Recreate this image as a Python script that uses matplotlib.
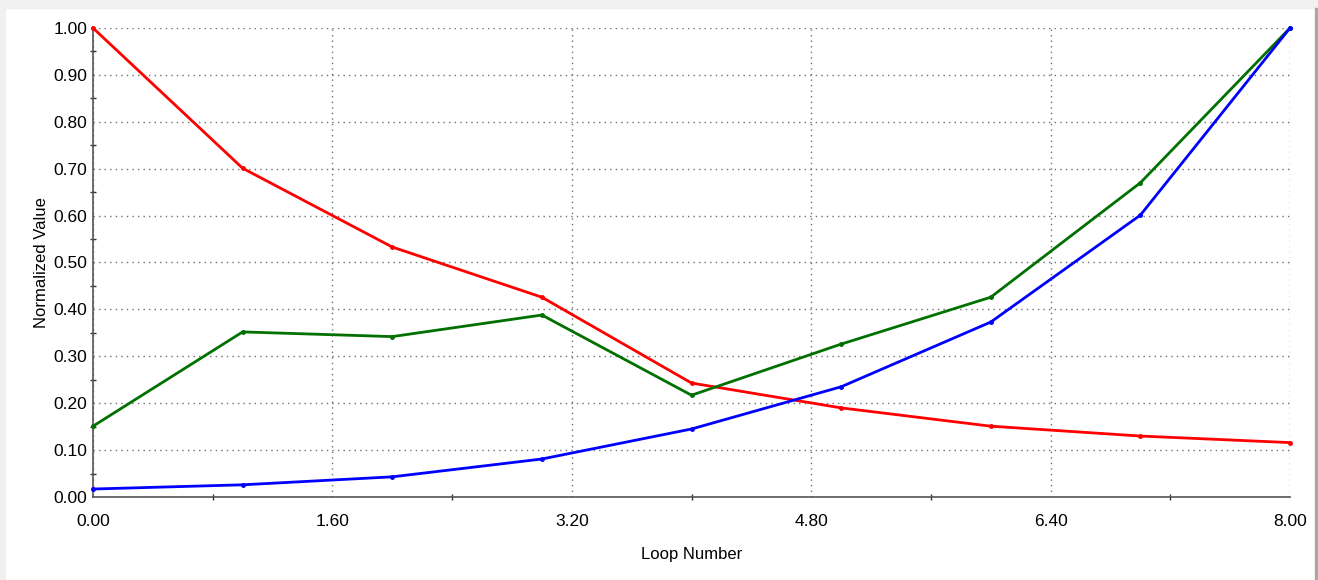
import matplotlib
matplotlib.use("Agg")
import matplotlib.pyplot as plt
from matplotlib.ticker import MultipleLocator, FormatStrFormatter
from matplotlib.patches import Rectangle

# loop index and the three normalized series
loops = [0, 1, 2, 3, 4, 5, 6, 7, 8]
red_vals = [1.00, 0.701, 0.533, 0.426, 0.243, 0.190, 0.151, 0.130, 0.116]
green_vals = [0.151, 0.352, 0.342, 0.388, 0.217, 0.326, 0.426, 0.670, 1.00]
blue_vals = [0.017, 0.026, 0.043, 0.081, 0.145, 0.235, 0.373, 0.601, 1.00]

plt.rcParams['font.family'] = ['Liberation Sans', 'DejaVu Sans']

fig = plt.figure(figsize=(13.18, 5.8), dpi=100)
ax = fig.add_axes([93 / 1318, 1 - 497 / 580, (1290 - 93) / 1318, (497 - 28) / 580])

# window-style frame around the plot area
fig.patches.append(Rectangle((0, 1 - 8 / 580), 1, 8 / 580, transform=fig.transFigure,
                             color='#f0f0f0', zorder=0))
fig.patches.append(Rectangle((0, 0), 5 / 1318, 1, transform=fig.transFigure,
                             color='#f0f0f0', zorder=0))
fig.patches.append(Rectangle((1315 / 1318, 0), 3 / 1318, 1 - 8 / 580, transform=fig.transFigure,
                             color='#a8a8a8', zorder=0))

ax.plot(loops, red_vals, color='#ff0000', lw=2, marker='o', ms=2.5, zorder=3, clip_on=False)
ax.plot(loops, green_vals, color='#007000', lw=2, marker='o', ms=2.5, zorder=3, clip_on=False)
ax.plot(loops, blue_vals, color='#0000ff', lw=2, marker='o', ms=2.5, zorder=3, clip_on=False)

ax.set_xlim(0, 8)
ax.set_ylim(0, 1)
ax.xaxis.set_major_locator(MultipleLocator(1.6))
ax.xaxis.set_minor_locator(MultipleLocator(0.8))
ax.yaxis.set_major_locator(MultipleLocator(0.1))
ax.yaxis.set_minor_locator(MultipleLocator(0.05))
ax.xaxis.set_major_formatter(FormatStrFormatter('%.2f'))
ax.yaxis.set_major_formatter(FormatStrFormatter('%.2f'))

ax.grid(True, which='major', linestyle=(0, (1, 3)), color='#707070', lw=1)
ax.set_axisbelow(True)

for side in ['top', 'right']:
    ax.spines[side].set_visible(False)
for side in ['left', 'bottom']:
    ax.spines[side].set_color('#555555')
    ax.spines[side].set_linewidth(1.2)

ax.tick_params(which='both', direction='inout', color='#333333', labelsize=12.5)
ax.tick_params(which='major', length=0, pad=4)
ax.tick_params(which='minor', length=5, width=1)
ax.tick_params(axis='x', which='major', pad=12)

ax.set_xlabel('Loop Number', fontsize=12, labelpad=13)
ax.set_ylabel('Normalized Value', fontsize=12, labelpad=3)

fig.savefig('out.png', dpi=100)
